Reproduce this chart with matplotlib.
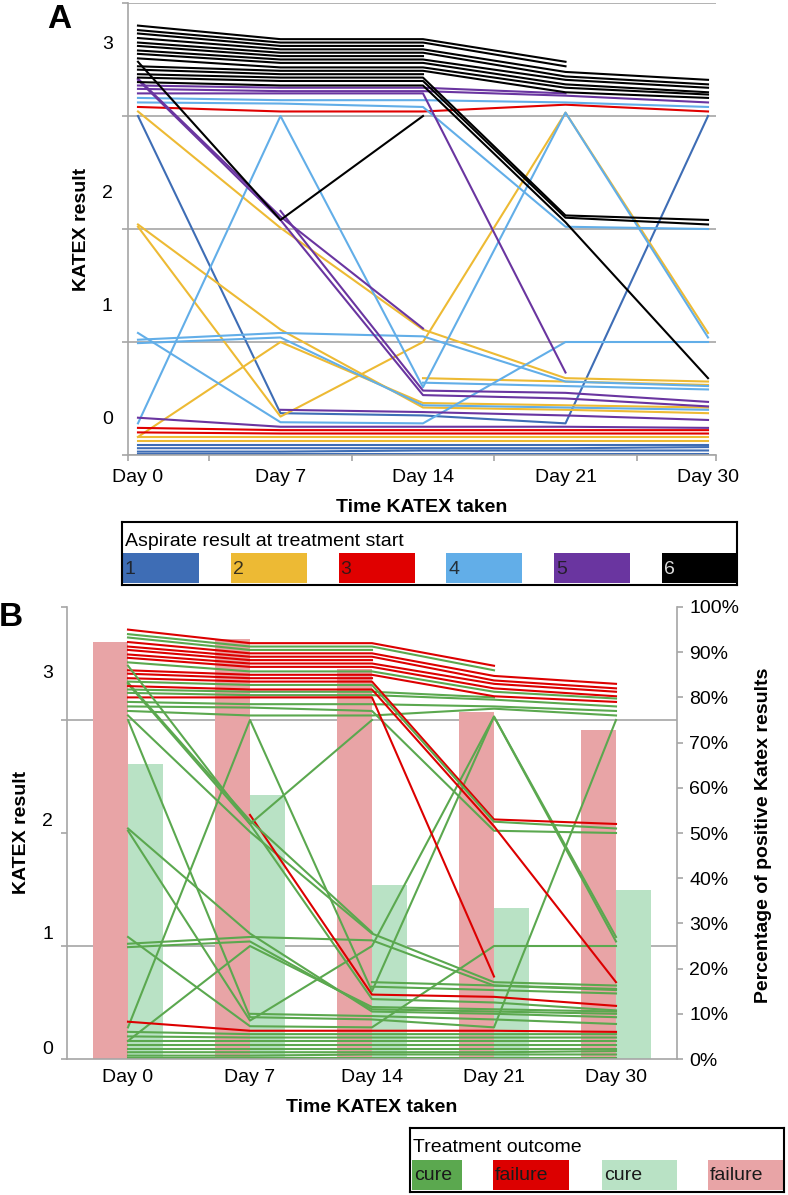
import numpy as np
import matplotlib
matplotlib.use("Agg")
import matplotlib.pyplot as plt
from matplotlib.patches import Rectangle

plt.rcParams["font.family"] = ["Liberation Sans", "DejaVu Sans"]
plt.rcParams["font.size"] = 14

N = np.nan
days = ["Day 0", "Day 7", "Day 14", "Day 21", "Day 30"]

# KATEX per patient (plotted within band of the score), grouped by aspirate result
asp1 = [[3.00, 0.37, 0.35, 0.28, 3.00],
        [0.09, 0.09, 0.09, 0.09, 0.09],
        [0.06, 0.06, 0.06, 0.06, 0.07],
        [0.03, 0.03, 0.04, 0.04, 0.04],
        [0.01, 0.01, 0.01, 0.01, 0.01]]
out1 = "ccccc"

asp2 = [[3.04, 2.01, 1.11, 0.68, 0.65],
        [2.04, 1.11, 0.42, 0.40, 0.37],
        [2.02, 0.34, 1.00, 3.03, 1.08],
        [0.16, 1.00, 0.46, 0.44, 0.42],
        [N, N, 0.68, 0.65, 0.62],
        [0.16, 0.16, 0.16, 0.16, 0.16],
        [0.12, 0.12, 0.12, 0.12, 0.12]]
out2 = "ccccccc"

asp3 = [[3.08, 3.04, 3.04, 3.10, 3.04],
        [0.24, 0.22, 0.22, 0.22, 0.22],
        [0.20, 0.19, 0.19, 0.19, 0.19]]
out3 = "ccc"

asp4 = [[3.16, 3.14, 3.14, 3.12, 3.08],
        [3.12, 3.11, 3.08, 2.02, 2.00],
        [0.28, 3.00, 0.60, 3.03, 1.04],
        [1.08, 0.29, 0.28, 1.00, 1.00],
        [1.02, 1.08, 1.05, 0.65, 0.61],
        [0.99, 1.04, 0.44, 0.42, 0.40],
        [N, N, 0.64, 0.61, 0.58]]
out4 = "ccccccc"

asp5 = [[3.27, 3.25, 3.25, 3.20, N],
        [3.24, 3.22, 3.22, 3.18, 3.12],
        [3.20, 3.20, 3.20, 0.73, N],
        [3.32, 2.08, 0.53, 0.50, 0.43],
        [N, 2.16, 0.57, 0.55, 0.47],
        [3.33, 2.11, 1.12, N, N],
        [0.33, 0.25, 0.25, 0.25, 0.24],
        [N, 0.40, 0.38, 0.35, 0.31]]
out5 = "ccfcfcfc"

asp6 = [[3.80, 3.68, 3.68, 3.48, N],
        [3.76, 3.65, 3.65, 3.44, N],
        [3.73, 3.62, 3.62, N, N],
        [3.69, 3.59, 3.59, 3.39, 3.32],
        [3.65, 3.56, 3.56, 3.35, 3.28],
        [3.62, 3.53, 3.53, N, N],
        [3.58, 3.50, 3.50, 3.32, 3.25],
        [3.55, 3.47, 3.47, 3.28, 3.21],
        [3.51, 3.43, 3.43, 3.25, 3.19],
        [3.44, 3.40, 3.40, 3.21, 3.16],
        [3.41, 3.37, 3.37, N, N],
        [3.37, 3.34, 3.34, 2.12, 2.08],
        [3.34, 3.31, 3.31, 2.10, 2.04],
        [3.30, 3.27, 3.27, 2.06, 0.68],
        [3.48, 2.08, 3.00, N, N]]
out6 = "fccfffffcfffcfc"

# percentage of positive KATEX results per day
pct_failure = [92.2, 92.9, 86.3, 76.7, 72.7]
pct_cure = [65.2, 58.3, 38.4, 33.3, 37.5]

groups = [asp1, asp2, asp3, asp4, asp5, asp6]
outcomes = [out1, out2, out3, out4, out5, out6]
group_labels = ["1", "2", "3", "4", "5", "6"]
group_colors = ["#3E6DB5", "#EDBA34", "#E00000", "#62AEE8", "#6A35A0", "#000000"]
line_color = {"c": "#5BA84F", "f": "#DC0000"}
bar_fail = "#E8A4A6"
bar_cure = "#B9E2C5"
grid_c = "#A6A6A6"

W, H = 788, 1195
fig = plt.figure(figsize=(W / 100, H / 100), dpi=100)


def px_axes(x0, y0, x1, y1):
    return fig.add_axes([x0 / W, 1 - y1 / H, (x1 - x0) / W, (y1 - y0) / H])


x = np.arange(len(days))

# ---------------- panel A ----------------
ax_a = px_axes(128, 3, 716, 455)
for grp, col in zip(groups, group_colors):
    for track in grp:
        ax_a.plot(x, track, color=col, lw=1.5)

ax_a.set_xlim(-0.07, 4.056)
ax_a.set_ylim(0, 4)
ax_a.set_yticks([0, 1, 2, 3, 4])
ax_a.set_yticklabels([])
ax_a.set_yticks([0.33, 1.33, 2.33, 3.65], labels=["0", "1", "2", "3"], minor=True)
ax_a.set_xticks([-0.07, 0.5, 1.5, 2.5, 3.5, 4.056])
ax_a.set_xticklabels([])
ax_a.set_xticks(x, labels=days, minor=True)
ax_a.tick_params(which="major", length=4, color=grid_c, width=1.2)
ax_a.tick_params(which="minor", length=0)
ax_a.tick_params(axis="y", which="minor", pad=11)
ax_a.tick_params(axis="x", which="minor", pad=10)
ax_a.grid(axis="y", which="major", color=grid_c, lw=1.2)
ax_a.set_axisbelow(True)
for s in ["top", "right"]:
    ax_a.spines[s].set_visible(False)
for s in ["left", "bottom"]:
    ax_a.spines[s].set_color(grid_c)
    ax_a.spines[s].set_linewidth(1.2)

fig.text(82 / W, 1 - 229 / H, "KATEX result", rotation=90, ha="center", va="center",
         fontweight="bold", fontsize=14)
fig.text(422 / W, 1 - 508 / H, "Time KATEX taken", ha="center", va="center",
         fontweight="bold", fontsize=14)
fig.text(59 / W, 1 - 20 / H, "A", ha="center", va="center", fontweight="bold", fontsize=24)

# legend A
lg_a = px_axes(122, 522, 737, 585)
lg_a.set_xlim(0, 615)
lg_a.set_ylim(63, 0)
lg_a.set_xticks([])
lg_a.set_yticks([])
for s in lg_a.spines.values():
    s.set_linewidth(1.5)
lg_a.text(3, 19, "Aspirate result at treatment start", va="center", ha="left", fontsize=14)
for i, (lab, col) in enumerate(zip(group_labels, group_colors)):
    x0 = 1 + i * 107.8
    lg_a.add_patch(Rectangle((x0, 31), 76, 30, color=col, lw=0))
    lg_a.text(x0 + 2, 47, lab, va="center", ha="left", fontsize=14,
              color="white" if col == "#000000" else "#1a1a1a", alpha=0.85)

# ---------------- panel B ----------------
ax_b = px_axes(67, 607, 677, 1059)
ax_b2 = ax_b.twinx()
ax_b.set_zorder(ax_b2.get_zorder() + 1)
ax_b.patch.set_visible(False)

ax_b2.bar(x - 0.145, pct_failure, width=0.29, color=bar_fail, zorder=2)
ax_b2.bar(x + 0.145, pct_cure, width=0.29, color=bar_cure, zorder=2)
ax_b2.set_ylim(0, 100)
ax_b2.set_yticks(np.arange(0, 101, 10), labels=["%d%%" % v for v in range(0, 101, 10)])
ax_b2.set_yticks([25, 50, 75, 100], minor=True)
ax_b2.grid(axis="y", which="minor", color=grid_c, lw=1.2, zorder=0)
ax_b2.set_axisbelow(True)
ax_b2.tick_params(axis="y", which="major", length=4, color=grid_c, width=1.2, pad=5)
ax_b2.tick_params(axis="y", which="minor", length=0)
for s in ["top", "left", "bottom"]:
    ax_b2.spines[s].set_visible(False)
ax_b2.spines["right"].set_color(grid_c)
ax_b2.spines["right"].set_linewidth(1.2)

for grp, outs in zip(groups, outcomes):
    for track, o in zip(grp, outs):
        ax_b.plot(x, track, color=line_color[o], lw=1.5)

ax_b.set_xlim(-0.5, 4.5)
ax_b.set_ylim(0, 4)
ax_b.set_yticks([0, 1, 2, 3, 4])
ax_b.set_yticklabels([])
ax_b.set_yticks([0.10, 1.12, 2.12, 3.43], labels=["0", "1", "2", "3"], minor=True)
ax_b.set_xticks(x, labels=days)
ax_b.tick_params(axis="y", which="major", length=4, color=grid_c, width=1.2)
ax_b.tick_params(axis="y", which="minor", length=0, pad=10)
ax_b.tick_params(axis="x", length=0, pad=7)
for s in ["top", "right"]:
    ax_b.spines[s].set_visible(False)
for s in ["left", "bottom"]:
    ax_b.spines[s].set_color(grid_c)
    ax_b.spines[s].set_linewidth(1.2)

fig.text(22 / W, 1 - 832 / H, "KATEX result", rotation=90, ha="center", va="center",
         fontweight="bold", fontsize=14)
fig.text(372 / W, 1 - 1108 / H, "Time KATEX taken", ha="center", va="center",
         fontweight="bold", fontsize=14)
fig.text(763 / W, 1 - 835 / H, "Percentage of positive Katex results", rotation=90,
         ha="center", va="center", fontweight="bold", fontsize=14)
fig.text(11 / W, 1 - 617 / H, "B", ha="center", va="center", fontweight="bold", fontsize=24)

# legend B
lg_b = px_axes(410, 1128, 784, 1192)
lg_b.set_xlim(0, 374)
lg_b.set_ylim(64, 0)
lg_b.set_xticks([])
lg_b.set_yticks([])
for s in lg_b.spines.values():
    s.set_linewidth(1.5)
lg_b.text(3, 19, "Treatment outcome", va="center", ha="left", fontsize=14)
legend_b_labels = ["cure", "failure", "cure", "failure"]
legend_b_colors = [line_color["c"], line_color["f"], bar_cure, bar_fail]
legend_b_x = [2, 83, 192, 298]
legend_b_w = [50, 76, 75, 75]
for lab, col, x0, w in zip(legend_b_labels, legend_b_colors, legend_b_x, legend_b_w):
    lg_b.add_patch(Rectangle((x0, 32), w, 30, color=col, lw=0))
    lg_b.text(x0 + 2, 48, lab, va="center", ha="left", fontsize=14, color="#1a1a1a")

fig.savefig("out.png", dpi=100)
